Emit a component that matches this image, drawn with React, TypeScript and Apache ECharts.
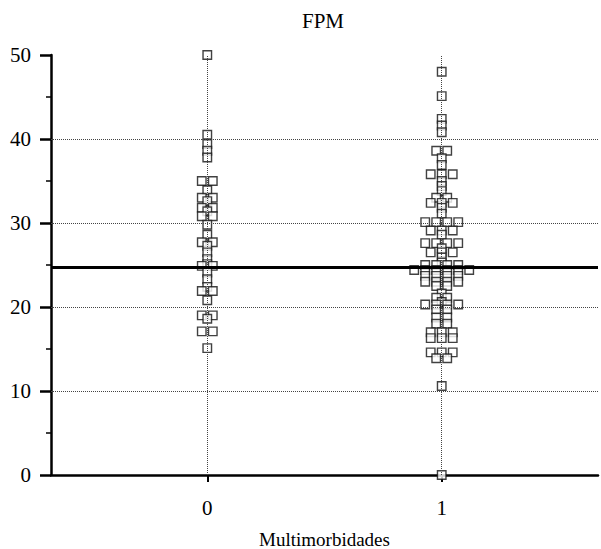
import React, { useEffect, useRef } from "react";
import * as echarts from "echarts";

const categories = ["0", "1"];
const chartTitle = "FPM";
const xName = "Multimorbidades";
const referenceValue = 24.7;
const gridValues = [10, 20, 30, 40];

// FPM values per category (equal values are drawn side by side)
const group0 = [
  50, 40.5, 39.4, 38.6, 37.8,
  35.0, 35.0, 33.9,
  33.0, 33.0, 32.6,
  31.8, 31.8, 31.4,
  30.8, 30.8, 29.8,
  28.6, 27.7, 27.7, 27.3,
  26.5, 25.7,
  25.1, 24.9, 24.9,
  24.1, 23.3,
  22.4, 21.9, 21.9,
  20.8,
  19.0, 19.0, 18.6,
  17.1, 17.1,
  15.1,
];

const group1 = [
  48, 45.1, 42.4, 41.6, 40.8,
  38.6, 38.6, 37.7, 36.9,
  35.8, 35.8, 35.8, 35.0, 34.4,
  33.8, 33.0, 33.0, 32.4, 32.4, 32.4, 31.8, 31.1,
  30.1, 30.1, 30.1, 30.1,
  29.1, 29.1, 29.1, 28.6,
  27.6, 27.6, 27.6, 27.6, 27.0,
  26.5, 26.5, 26.5, 25.9,
  25.3, 25.0, 25.0, 25.0, 25.0,
  24.4, 24.4, 24.4, 24.4, 24.4, 24.4,
  23.7, 23.7, 23.7, 23.7,
  23.0, 23.0, 23.0, 23.0,
  22.5, 22.5, 21.6, 21.1, 21.1, 20.6,
  20.3, 20.3, 20.3, 20.3,
  19.7, 19.7,
  18.75, 18.75, 18.0, 18.0,
  17.0, 17.0, 17.0,
  16.3, 16.3, 16.3,
  14.6, 14.6, 14.6,
  13.9, 13.9,
  10.6, 0,
];

const W = 601;
const H = 549;
const GRID = { left: 51, right: 3, top: 55, bottom: 74 };
const X_MIN = -2 / 3;
const X_MAX = 5 / 3;
const Y_MIN = 0;
const Y_MAX = 50;
const STEP_PX = 11;

function dotPlot(values: number[], cat: number): number[][] {
  const pxPerX = (W - GRID.left - GRID.right) / (X_MAX - X_MIN);
  const counts = new Map<number, number>();
  values.forEach((v) => counts.set(v, (counts.get(v) || 0) + 1));
  const seen = new Map<number, number>();
  return values.map((v) => {
    const n = counts.get(v) || 1;
    const i = seen.get(v) || 0;
    seen.set(v, i + 1);
    const dx = (i - (n - 1) / 2) * STEP_PX;
    return [cat + dx / pxPerX, v];
  });
}

export default function App() {
  const ref = useRef<HTMLDivElement>(null);
  useEffect(() => {
    if (!ref.current) return;
    const chart = echarts.init(ref.current, null, { renderer: "svg" });
    const serif = "'Liberation Serif', 'Times New Roman', serif";
    const points = [...dotPlot(group0, 0), ...dotPlot(group1, 1)];
    chart.setOption({
      animation: false,
      backgroundColor: "#fff",
      graphic: [
        {
          type: "text",
          x: 323,
          y: 21,
          style: {
            text: chartTitle,
            font: `21px ${serif}`,
            fill: "#000",
            textAlign: "center",
            textVerticalAlign: "middle",
          },
        },
      ],
      grid: { ...GRID, containLabel: false, outerBoundsMode: "none" },
      xAxis: {
        type: "value",
        min: X_MIN,
        max: X_MAX,
        name: xName,
        nameLocation: "middle",
        nameGap: 55,
        nameTextStyle: { fontFamily: serif, fontSize: 19, color: "#000" },
        axisLine: { show: true, onZero: false, lineStyle: { color: "#000", width: 2.5 } },
        axisTick: { show: true, customValues: [0, 1], length: 7, lineStyle: { color: "#000", width: 2 } },
        axisLabel: {
          show: true,
          customValues: [0, 1],
          formatter: (v: number) => categories[Math.round(v)],
          fontFamily: serif,
          fontSize: 21,
          color: "#000",
          margin: 22,
        },
        splitLine: { show: false },
      },
      yAxis: {
        type: "value",
        min: Y_MIN,
        max: Y_MAX,
        interval: 10,
        axisLine: { show: true, onZero: false, lineStyle: { color: "#000", width: 2.5 } },
        axisTick: { show: true, length: 11, lineStyle: { color: "#000", width: 2.5 } },
        minorTick: { show: true, splitNumber: 2, length: 5, lineStyle: { color: "#000", width: 1.5 } },
        axisLabel: { fontFamily: serif, fontSize: 21, color: "#000", margin: 20 },
        splitLine: { show: false },
      },
      series: [
        {
          type: "scatter",
          data: [],
          z: 1,
          silent: true,
          markLine: {
            silent: true,
            symbol: "none",
            label: { show: false },
            lineStyle: { color: "#444", width: 1, type: "dotted" },
            data: [
              ...gridValues.map((v) => ({ yAxis: v })),
              ...categories.map((_, i) => ({ xAxis: i })),
            ],
          },
        },
        {
          type: "scatter",
          data: points,
          z: 3,
          symbol: "rect",
          symbolSize: 8.5,
          itemStyle: { color: "#fff", borderColor: "#111", borderWidth: 1.4 },
        },
        {
          type: "scatter",
          data: [],
          z: 5,
          silent: true,
          markLine: {
            silent: true,
            symbol: "none",
            label: { show: false },
            lineStyle: { color: "#000", width: 3, type: "solid" },
            data: [{ yAxis: referenceValue }],
          },
        },
      ],
    });
    return () => chart.dispose();
  }, []);
  return (
    <div
      ref={ref}
      style={{ position: "fixed", left: 0, top: 0, width: W, height: H, background: "#fff" }}
    />
  );
}
